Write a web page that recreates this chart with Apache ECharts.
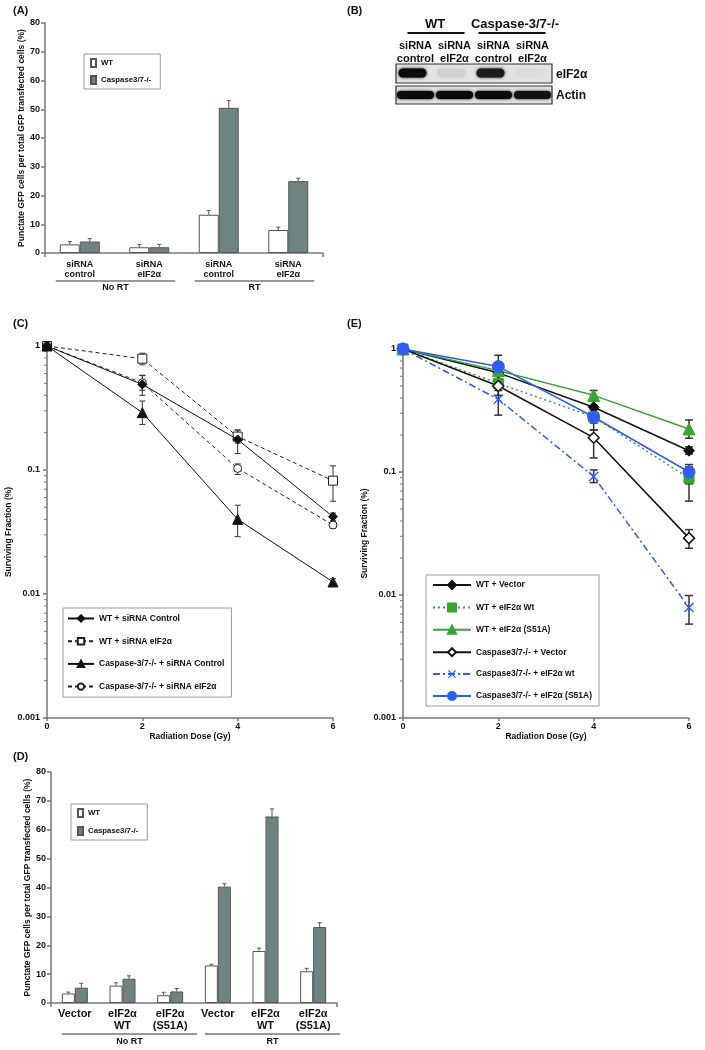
<!DOCTYPE html>
<html><head><meta charset="utf-8">
<script src="https://cdn.jsdelivr.net/npm/echarts@6/dist/echarts.min.js"></script>
<style>html,body{margin:0;padding:0;background:#fff}#c{width:705px;height:1050px}</style>
</head><body><div id="c"></div>
<script>
// ---------- DATA ----------
// Panel A
const aCategories = ['siRNA\ncontrol', 'siRNA\neIF2α', 'siRNA\ncontrol', 'siRNA\neIF2α'];
const aGroups = ['No RT', 'RT'];
const aWT = [3, 2, 13.3, 8];
const aWTErr = [1, 1, 1.5, 1];
const aCasp = [4, 2, 50.5, 25];
const aCaspErr = [1, 1, 2.5, 1];
const barNames = ['WT', 'Caspase3/7-/-'];
// Panel B (western blot band intensities, 0..1)
const bGroups = ['WT', 'Caspase-3/7-/-'];
const bLanes = ['siRNA\ncontrol', 'siRNA\neIF2α', 'siRNA\ncontrol', 'siRNA\neIF2α'];
const bRows = ['eIF2α', 'Actin'];
const bEif2a = [1.0, 0.08, 0.92, 0.03];
const bActin = [1.0, 1.0, 1.0, 0.97];
// Panel C
const doses = [0, 2, 4, 6];
const cNames = ['WT + siRNA Control', 'WT + siRNA eIF2α', 'Caspase-3/7-/- + siRNA Control', 'Caspase-3/7-/- + siRNA eIF2α'];
const cWTCtrl = [1, 0.49, 0.176, 0.042];
const cWTCtrlErr = [[1, 1], [0.40, 0.58], [0.136, 0.21], [0.039, 0.045]];
const cWTEif = [1, 0.79, 0.186, 0.082];
const cWTEifErr = [[1, 1], [0.705, 0.875], [0.165, 0.21], [0.056, 0.108]];
const cCaspCtrl = [1, 0.29, 0.040, 0.0125];
const cCaspCtrlErr = [[1, 1], [0.233, 0.36], [0.029, 0.052], [0.0118, 0.0133]];
const cCaspEif = [1, 0.505, 0.103, 0.036];
const cCaspEifErr = [[1, 1], [0.44, 0.58], [0.092, 0.112], [0.034, 0.038]];
// Panel E
const eNames = ['WT + Vector', 'WT + eIF2α Wt', 'WT + eIF2α (S51A)', 'Caspase3/7-/- + Vector', 'Caspase3/7-/- + eIF2α wt', 'Caspase3/7-/- + eIF2α (S51A)'];
const eWTVec = [1, 0.64, 0.336, 0.149];
const eWTVecErr = [[1, 1], [0.56, 0.74], [0.30, 0.38], [0.14, 0.16]];
const eWTEif = [1, 0.526, 0.28, 0.089];
const eWTEifErr = [[1, 1], [0.46, 0.60], [0.25, 0.32], [0.058, 0.11]];
const eWTS51A = [1, 0.667, 0.42, 0.224];
const eWTS51AErr = [[1, 1], [0.60, 0.74], [0.38, 0.46], [0.188, 0.265]];
const eCaspVec = [1, 0.50, 0.19, 0.029];
const eCaspVecErr = [[1, 1], [0.42, 0.60], [0.13, 0.22], [0.024, 0.034]];
const eCaspEif = [1, 0.39, 0.092, 0.0079];
const eCaspEifErr = [[1, 1], [0.29, 0.50], [0.082, 0.104], [0.0058, 0.0099]];
const eCaspS51A = [1, 0.72, 0.28, 0.10];
const eCaspS51AErr = [[1, 1], [0.55, 0.89], [0.22, 0.33], [0.08, 0.115]];
// Panel D
const dCategories = ['Vector', 'eIF2α\nWT', 'eIF2α\n(S51A)', 'Vector', 'eIF2α\nWT', 'eIF2α\n(S51A)'];
const dWT = [3.3, 6, 2.7, 13, 18, 11];
const dWTErr = [0.5, 1, 1, 0.4, 1, 1];
const dCasp = [5.3, 8.4, 4, 40.3, 64.6, 26.3];
const dCaspErr = [1.5, 1, 1, 1, 2.6, 1.5];
// log axis minor tick values
const minorVals = [];
[0.001, 0.01, 0.1].forEach(b => { for (let k = 2; k <= 9; k++) minorVals.push(+(b * k).toPrecision(3)); });

// ---------- STYLE ----------
const F = '"Liberation Sans", Arial, Helvetica, sans-serif';
const TXT = '#111';
const AX = '#777';
const GRAY = '#6f8482';
const GREEN = '#35a533';
const BLUE = '#2f5cf5';
const bold = (s) => ({ fontFamily: F, fontWeight: 'bold', fontSize: s, color: TXT });

const chart = echarts.init(document.getElementById('c'));

function catX(i, cats, labelSize, lh, margin, tickIdx) {
  return {
    type: 'category', gridIndex: i, data: cats,
    axisLine: { lineStyle: { color: AX, width: 1.5 } },
    axisTick: { show: true, length: 4, lineStyle: { color: AX, width: 1.5 }, interval: (idx) => idx === tickIdx },
    axisLabel: Object.assign(bold(labelSize), { lineHeight: lh, margin: margin, interval: 0 })
  };
}
function linY(i, nameGap) {
  return {
    type: 'value', gridIndex: i, min: 0, max: 80, interval: 10,
    name: 'Punctate GFP cells per total GFP transfected cells (%)', nameLocation: 'middle', nameGap: nameGap, nameRotate: 90,
    nameTextStyle: bold(8.5),
    axisLine: { show: true, lineStyle: { color: AX, width: 1.5 } },
    axisTick: { show: true, length: 4, lineStyle: { color: AX, width: 1.5 } },
    axisLabel: Object.assign(bold(9), { margin: 5 }),
    splitLine: { show: false }
  };
}
function doseX(i) {
  return {
    type: 'value', gridIndex: i, min: 0, max: 6, interval: 2,
    name: 'Radiation Dose (Gy)', nameLocation: 'middle', nameGap: 13, nameTextStyle: bold(8.5),
    axisLine: { lineStyle: { color: AX, width: 1.5 } },
    axisTick: { show: true, length: 3, lineStyle: { color: AX, width: 1.5 } },
    axisLabel: Object.assign(bold(9), { margin: 4 }),
    splitLine: { show: false }
  };
}
function logY(i, gap) {
  return {
    type: 'log', gridIndex: i, min: 0.001, max: 1, logBase: 10,
    name: 'Surviving Fraction (%)', nameLocation: 'middle', nameGap: gap, nameRotate: 90, nameTextStyle: bold(8.5),
    axisLine: { show: true, lineStyle: { color: AX, width: 1.5 } },
    axisTick: { show: true, length: 4, lineStyle: { color: AX, width: 1.5 } },
    axisLabel: Object.assign(bold(9), { margin: 7, formatter: (v) => String(+v.toPrecision(3)) }),
    splitLine: { show: false }
  };
}
function barSeries(i, name, data, color, width) {
  return { name, type: 'bar', xAxisIndex: i, yAxisIndex: i, data, barWidth: width, barGap: '0%',
    itemStyle: { color, borderColor: '#555', borderWidth: 1 }, z: 2 };
}
function barErr(i, vals, errs, offset) {
  return { type: 'custom', xAxisIndex: i, yAxisIndex: i, z: 3, silent: true,
    data: vals.map((v, k) => [k, v, v + errs[k]]),
    renderItem(params, api) {
      const p = api.coord([api.value(0), api.value(1)]);
      const h = api.coord([api.value(0), api.value(2)]);
      const x = p[0] + offset;
      return { type: 'group', children: [
        { type: 'line', shape: { x1: x, y1: p[1], x2: x, y2: h[1] }, style: { stroke: '#555', lineWidth: 1 } },
        { type: 'line', shape: { x1: x - 2, y1: h[1], x2: x + 2, y2: h[1] }, style: { stroke: '#555', lineWidth: 1 } }
      ] };
    } };
}
function lineSeries(i, name, vals, o) {
  return { name, type: 'line', xAxisIndex: i, yAxisIndex: i, data: doses.map((d, k) => [d, vals[k]]),
    symbol: o.symbol, symbolSize: o.size, showSymbol: true,
    lineStyle: { color: o.color, width: o.width, type: o.type },
    itemStyle: { color: o.fill, borderColor: o.color, borderWidth: o.bw }, z: o.z || 4 };
}
function errLog(i, errs, color, w, cap) {
  return { type: 'custom', xAxisIndex: i, yAxisIndex: i, z: 3, silent: true,
    data: doses.map((d, k) => [d, errs[k][0], errs[k][1]]).filter(r => r[1] !== r[2]),
    renderItem(params, api) {
      const lo = api.coord([api.value(0), api.value(1)]);
      const hi = api.coord([api.value(0), api.value(2)]);
      const x = lo[0];
      const st = { stroke: color, lineWidth: w };
      return { type: 'group', children: [
        { type: 'line', shape: { x1: x, y1: lo[1], x2: x, y2: hi[1] }, style: st },
        { type: 'line', shape: { x1: x - cap, y1: lo[1], x2: x + cap, y2: lo[1] }, style: st },
        { type: 'line', shape: { x1: x - cap, y1: hi[1], x2: x + cap, y2: hi[1] }, style: st }
      ] };
    } };
}
function minorTicks(i) {
  return { type: 'custom', xAxisIndex: i, yAxisIndex: i, z: 5, silent: true,
    data: minorVals.map(v => [0, v]),
    renderItem(params, api) {
      const p = api.coord([0, api.value(1)]);
      return { type: 'line', shape: { x1: p[0] - 3, y1: p[1], x2: p[0], y2: p[1] }, style: { stroke: AX, lineWidth: 1 } };
    } };
}
const xPath = 'path://M1,0L5,4L9,0L10,1L6,5L10,9L9,10L5,6L1,10L0,9L4,5L0,1Z';

const legendBase = { orient: 'vertical', borderColor: '#999', borderWidth: 1, backgroundColor: '#fff',
  textStyle: bold(8.5), selectedMode: false };

const option = {
  animation: false,
  backgroundColor: '#fff',
  grid: [
    { left: 45, top: 23, width: 278, height: 230 },
    { left: 47, top: 346, width: 286, height: 372 },
    { left: 403, top: 349, width: 286, height: 369 },
    { left: 51, top: 772, width: 286, height: 231 }
  ],
  xAxis: [
    catX(0, aCategories, 9, 10, 7, 2),
    doseX(1),
    doseX(2),
    catX(3, dCategories, 11, 12, 5, 3)
  ],
  yAxis: [linY(0, 16), logY(1, 25), logY(2, 26), linY(3, 16)],
  legend: [
    Object.assign({}, legendBase, { left: 84, top: 54, padding: [4, 9, 4, 6], itemWidth: 5, itemHeight: 8, itemGap: 7, icon: 'rect', textStyle: bold(7.8), data: barNames.slice() }),
    Object.assign({}, legendBase, { left: 71, top: 804, padding: [4, 9, 4, 6], itemWidth: 5, itemHeight: 8, itemGap: 8, icon: 'rect', textStyle: bold(7.8), data: barNames.slice() }),
    Object.assign({}, legendBase, { left: 63, top: 608, padding: [6, 7, 6, 4], itemWidth: 26, itemHeight: 8, itemGap: 13.7, data: cNames.slice() }),
    Object.assign({}, legendBase, { left: 426, top: 575, padding: [5, 7, 5, 6], itemWidth: 38, itemHeight: 10, itemGap: 12.4, data: eNames.slice() })
  ],
  series: [
    barSeries(0, barNames[0], aWT, '#fff', 20),
    barSeries(0, barNames[1], aCasp, GRAY, 20),
    barErr(0, aWT, aWTErr, -10),
    barErr(0, aCasp, aCaspErr, 10),
    barSeries(3, barNames[0], dWT, '#fff', 13),
    barSeries(3, barNames[1], dCasp, GRAY, 13),
    barErr(3, dWT, dWTErr, -6.5),
    barErr(3, dCasp, dCaspErr, 6.5),
    // C
    errLog(1, cWTCtrlErr, '#333', 1, 3),
    errLog(1, cWTEifErr, '#333', 1, 3),
    errLog(1, cCaspCtrlErr, '#333', 1, 3),
    errLog(1, cCaspEifErr, '#333', 1, 3),
    lineSeries(1, cNames[0], cWTCtrl, { symbol: 'diamond', size: 9, color: '#111', fill: '#111', width: 1, type: 'solid', bw: 1, z: 6 }),
    lineSeries(1, cNames[1], cWTEif, { symbol: 'rect', size: 9, color: '#222', fill: '#fff', width: 1, type: [4, 3], bw: 1 }),
    lineSeries(1, cNames[2], cCaspCtrl, { symbol: 'triangle', size: 10, color: '#111', fill: '#111', width: 1, type: 'solid', bw: 1, z: 5 }),
    lineSeries(1, cNames[3], cCaspEif, { symbol: 'circle', size: 8, color: '#222', fill: '#fff', width: 1, type: [4, 3], bw: 1 }),
    minorTicks(1),
    // E
    errLog(2, eWTVecErr, '#333', 1.5, 4),
    errLog(2, eWTEifErr, '#333', 1.5, 4),
    errLog(2, eWTS51AErr, '#333', 1.5, 4),
    errLog(2, eCaspVecErr, '#333', 1.5, 4),
    errLog(2, eCaspEifErr, '#333', 1.5, 4),
    errLog(2, eCaspS51AErr, '#333', 1.5, 4),
    lineSeries(2, eNames[0], eWTVec, { symbol: 'diamond', size: 11, color: '#111', fill: '#111', width: 1.5, type: 'solid', bw: 1 }),
    lineSeries(2, eNames[1], eWTEif, { symbol: 'rect', size: 10, color: GREEN, fill: GREEN, width: 1.5, type: [2, 3], bw: 1 }),
    lineSeries(2, eNames[2], eWTS51A, { symbol: 'triangle', size: 12, color: GREEN, fill: GREEN, width: 1.5, type: 'solid', bw: 1 }),
    lineSeries(2, eNames[3], eCaspVec, { symbol: 'diamond', size: 11, color: '#111', fill: '#fff', width: 1.5, type: 'solid', bw: 1.5 }),
    lineSeries(2, eNames[4], eCaspEif, { symbol: xPath, size: 10, color: BLUE, fill: BLUE, width: 1.5, type: [7, 3, 2, 3], bw: 0 }),
    lineSeries(2, eNames[5], eCaspS51A, { symbol: 'circle', size: 12, color: BLUE, fill: BLUE, width: 1.5, type: 'solid', bw: 1 }),
    minorTicks(2)
  ]
};
chart.setOption(option);

// ---------- GRAPHICS: panel labels, group brackets, blot ----------
const g = [];
function txt(x, y, s, size, align) {
  g.push({ type: 'text', x, y, style: { text: s, font: 'bold ' + size + 'px ' + F, fill: TXT, textAlign: align || 'left', textVerticalAlign: 'middle' }, z: 20 });
}
function ln(x1, y1, x2, y2, w, c) {
  g.push({ type: 'line', shape: { x1, y1, x2, y2 }, style: { stroke: c || '#222', lineWidth: w }, z: 20 });
}
txt(13, 11, '(A)', 11); txt(347, 11, '(B)', 11); txt(13, 324, '(C)', 11); txt(347, 324, '(E)', 11); txt(13, 757, '(D)', 11);

// Brackets under bar panels
function brackets(axisIdx, groupsIdx, offL, offR, yLine, yText) {
  groupsIdx.forEach((pair, gi) => {
    const x1 = chart.convertToPixel({ xAxisIndex: axisIdx }, pair[0]) - offL;
    const x2 = chart.convertToPixel({ xAxisIndex: axisIdx }, pair[1]) + offR;
    ln(x1, yLine, x2, yLine, 1, '#333');
    txt((x1 + x2) / 2, yText, aGroups[gi], 9, 'center');
  });
}
brackets(0, [[0, 1], [2, 3]], 24, 26, 281, 288);
brackets(3, [[0, 2], [3, 5]], 13, 27, 1034, 1042);

// Western blot (B)
const bx0 = 396, bx1 = 552, laneW = (bx1 - bx0) / bLanes.length;
const laneC = bLanes.map((_, i) => bx0 + laneW * (i + 0.5));
txt((laneC[0] + laneC[1]) / 2, 24, bGroups[0], 13, 'center');
txt((laneC[2] + laneC[3]) / 2 + 2, 24, bGroups[1], 13, 'center');
ln(laneC[0] - 8, 33, laneC[1] + 10, 33, 2, '#111');
ln(laneC[2] - 15, 33, laneC[3] + 13, 33, 2, '#111');
bLanes.forEach((l, i) => {
  const parts = l.split('\n');
  txt(laneC[i], 46, parts[0], 11, 'center');
  txt(laneC[i], 59, parts[1], 11, 'center');
});
const rowBox = [[64, 83], [86, 104]];
rowBox.forEach((r, ri) => {
  g.push({ type: 'rect', shape: { x: bx0, y: r[0], width: bx1 - bx0, height: r[1] - r[0] }, style: { fill: '#e2e2e2', stroke: '#333', lineWidth: 1.2 }, z: 18 });
  const vals = ri === 0 ? bEif2a : bActin;
  vals.forEach((v, li) => {
    const gl = Math.round(226 - 215 * v);
    const col = 'rgb(' + gl + ',' + gl + ',' + gl + ')';
    const w = ri === 0 ? 28 : 37, h = ri === 0 ? 9 : 8;
    const cy = ri === 0 ? 73 : 95;
    g.push({ type: 'rect', shape: { x: laneC[li] - w / 2 - (ri === 0 ? 3 : 0), y: cy - h / 2, width: w, height: h, r: h / 2 },
      style: { fill: col, shadowBlur: 3, shadowColor: col }, z: 19 });
  });
  txt(bx1 + 4, (r[0] + r[1]) / 2 + 1, bRows[ri], 12, 'left');
});

chart.setOption({ graphic: g });
</script>
</body></html>
